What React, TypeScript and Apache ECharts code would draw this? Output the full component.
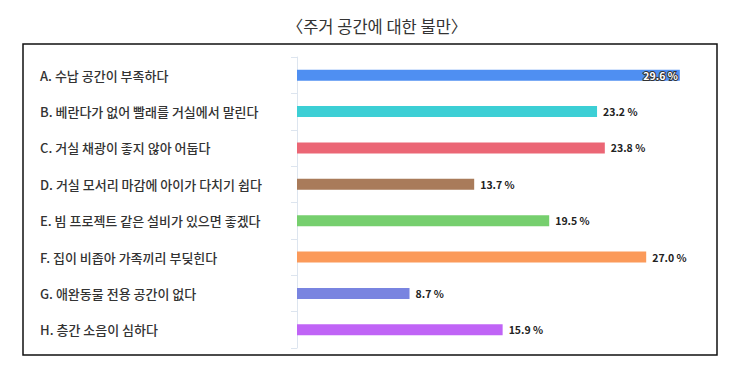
import React, { useEffect, useRef } from "react";
import * as echarts from "echarts";

const title = "〈주거 공간에 대한 불만〉";
const categories = [
  "A. 수납 공간이 부족하다",
  "B. 베란다가 없어 빨래를 거실에서 말린다",
  "C. 거실 채광이 좋지 않아 어둡다",
  "D. 거실 모서리 마감에 아이가 다치기 쉽다",
  "E. 빔 프로젝트 같은 설비가 있으면 좋겠다",
  "F. 집이 비좁아 가족끼리 부딪힌다",
  "G. 애완동물 전용 공간이 없다",
  "H. 층간 소음이 심하다",
];
const values = [29.6, 23.2, 23.8, 13.7, 19.5, 27.0, 8.7, 15.9];
const colors = ["#4f8ff2", "#3ccfd5", "#eb6675", "#a97b5a", "#76cf6e", "#fb9a5a", "#7984e0", "#c064f6"];
const insideLabel = [true, false, false, false, false, false, false, false];

export default function App() {
  const ref = useRef<HTMLDivElement>(null);
  useEffect(() => {
    if (!ref.current) return;
    const chart = echarts.init(ref.current, null, { renderer: "svg" });
    const font = "'Noto Sans CJK KR', 'Noto Sans', sans-serif";
    chart.setOption({
      animation: false,
      backgroundColor: "#fff",
      title: {
        text: title,
        left: 372,
        textAlign: "center",
        top: 13,
        textStyle: { fontFamily: font, fontSize: 16.5, fontWeight: "normal", color: "#333" },
      },
      graphic: [
        {
          type: "rect",
          shape: { x: 23, y: 44, width: 694, height: 311 },
          style: { fill: "none", stroke: "#111", lineWidth: 1.5 },
          z: 10,
        },
      ],
      grid: { left: 297, right: 66, top: 57, bottom: 34 },
      xAxis: {
        type: "value",
        min: 0,
        max: 30,
        show: false,
      },
      yAxis: {
        type: "category",
        inverse: true,
        data: categories,
        axisLine: { show: true, lineStyle: { color: "#dde5ef", width: 1 } },
        axisTick: { show: true, length: 6, lineStyle: { color: "#dde5ef" } },
        axisLabel: {
          align: "left",
          margin: 257,
          fontFamily: font,
          fontSize: 13,
          fontWeight: 500,
          color: "#333",
        },
        splitLine: { show: false },
      },
      series: [
        {
          type: "bar",
          barWidth: 11,
          data: values.map((v, i) => ({
            value: v,
            itemStyle: { color: colors[i] },
            label: insideLabel[i]
              ? {
                  position: "insideRight",
                  distance: 2,
                  color: "#fff",
                  textBorderColor: "#333",
                  textBorderWidth: 2,
                }
              : { position: "right", distance: 6, color: "#222" },
          })),
          label: {
            show: true,
            fontFamily: font,
            fontSize: 10.5,
            fontWeight: "bold",
            formatter: (p: any) => Number(p.value).toFixed(1) + " %",
          },
        },
      ],
    });
    return () => chart.dispose();
  }, []);
  return (
    <div
      ref={ref}
      style={{ position: "fixed", left: 0, top: 0, width: 751, height: 382 }}
    />
  );
}
